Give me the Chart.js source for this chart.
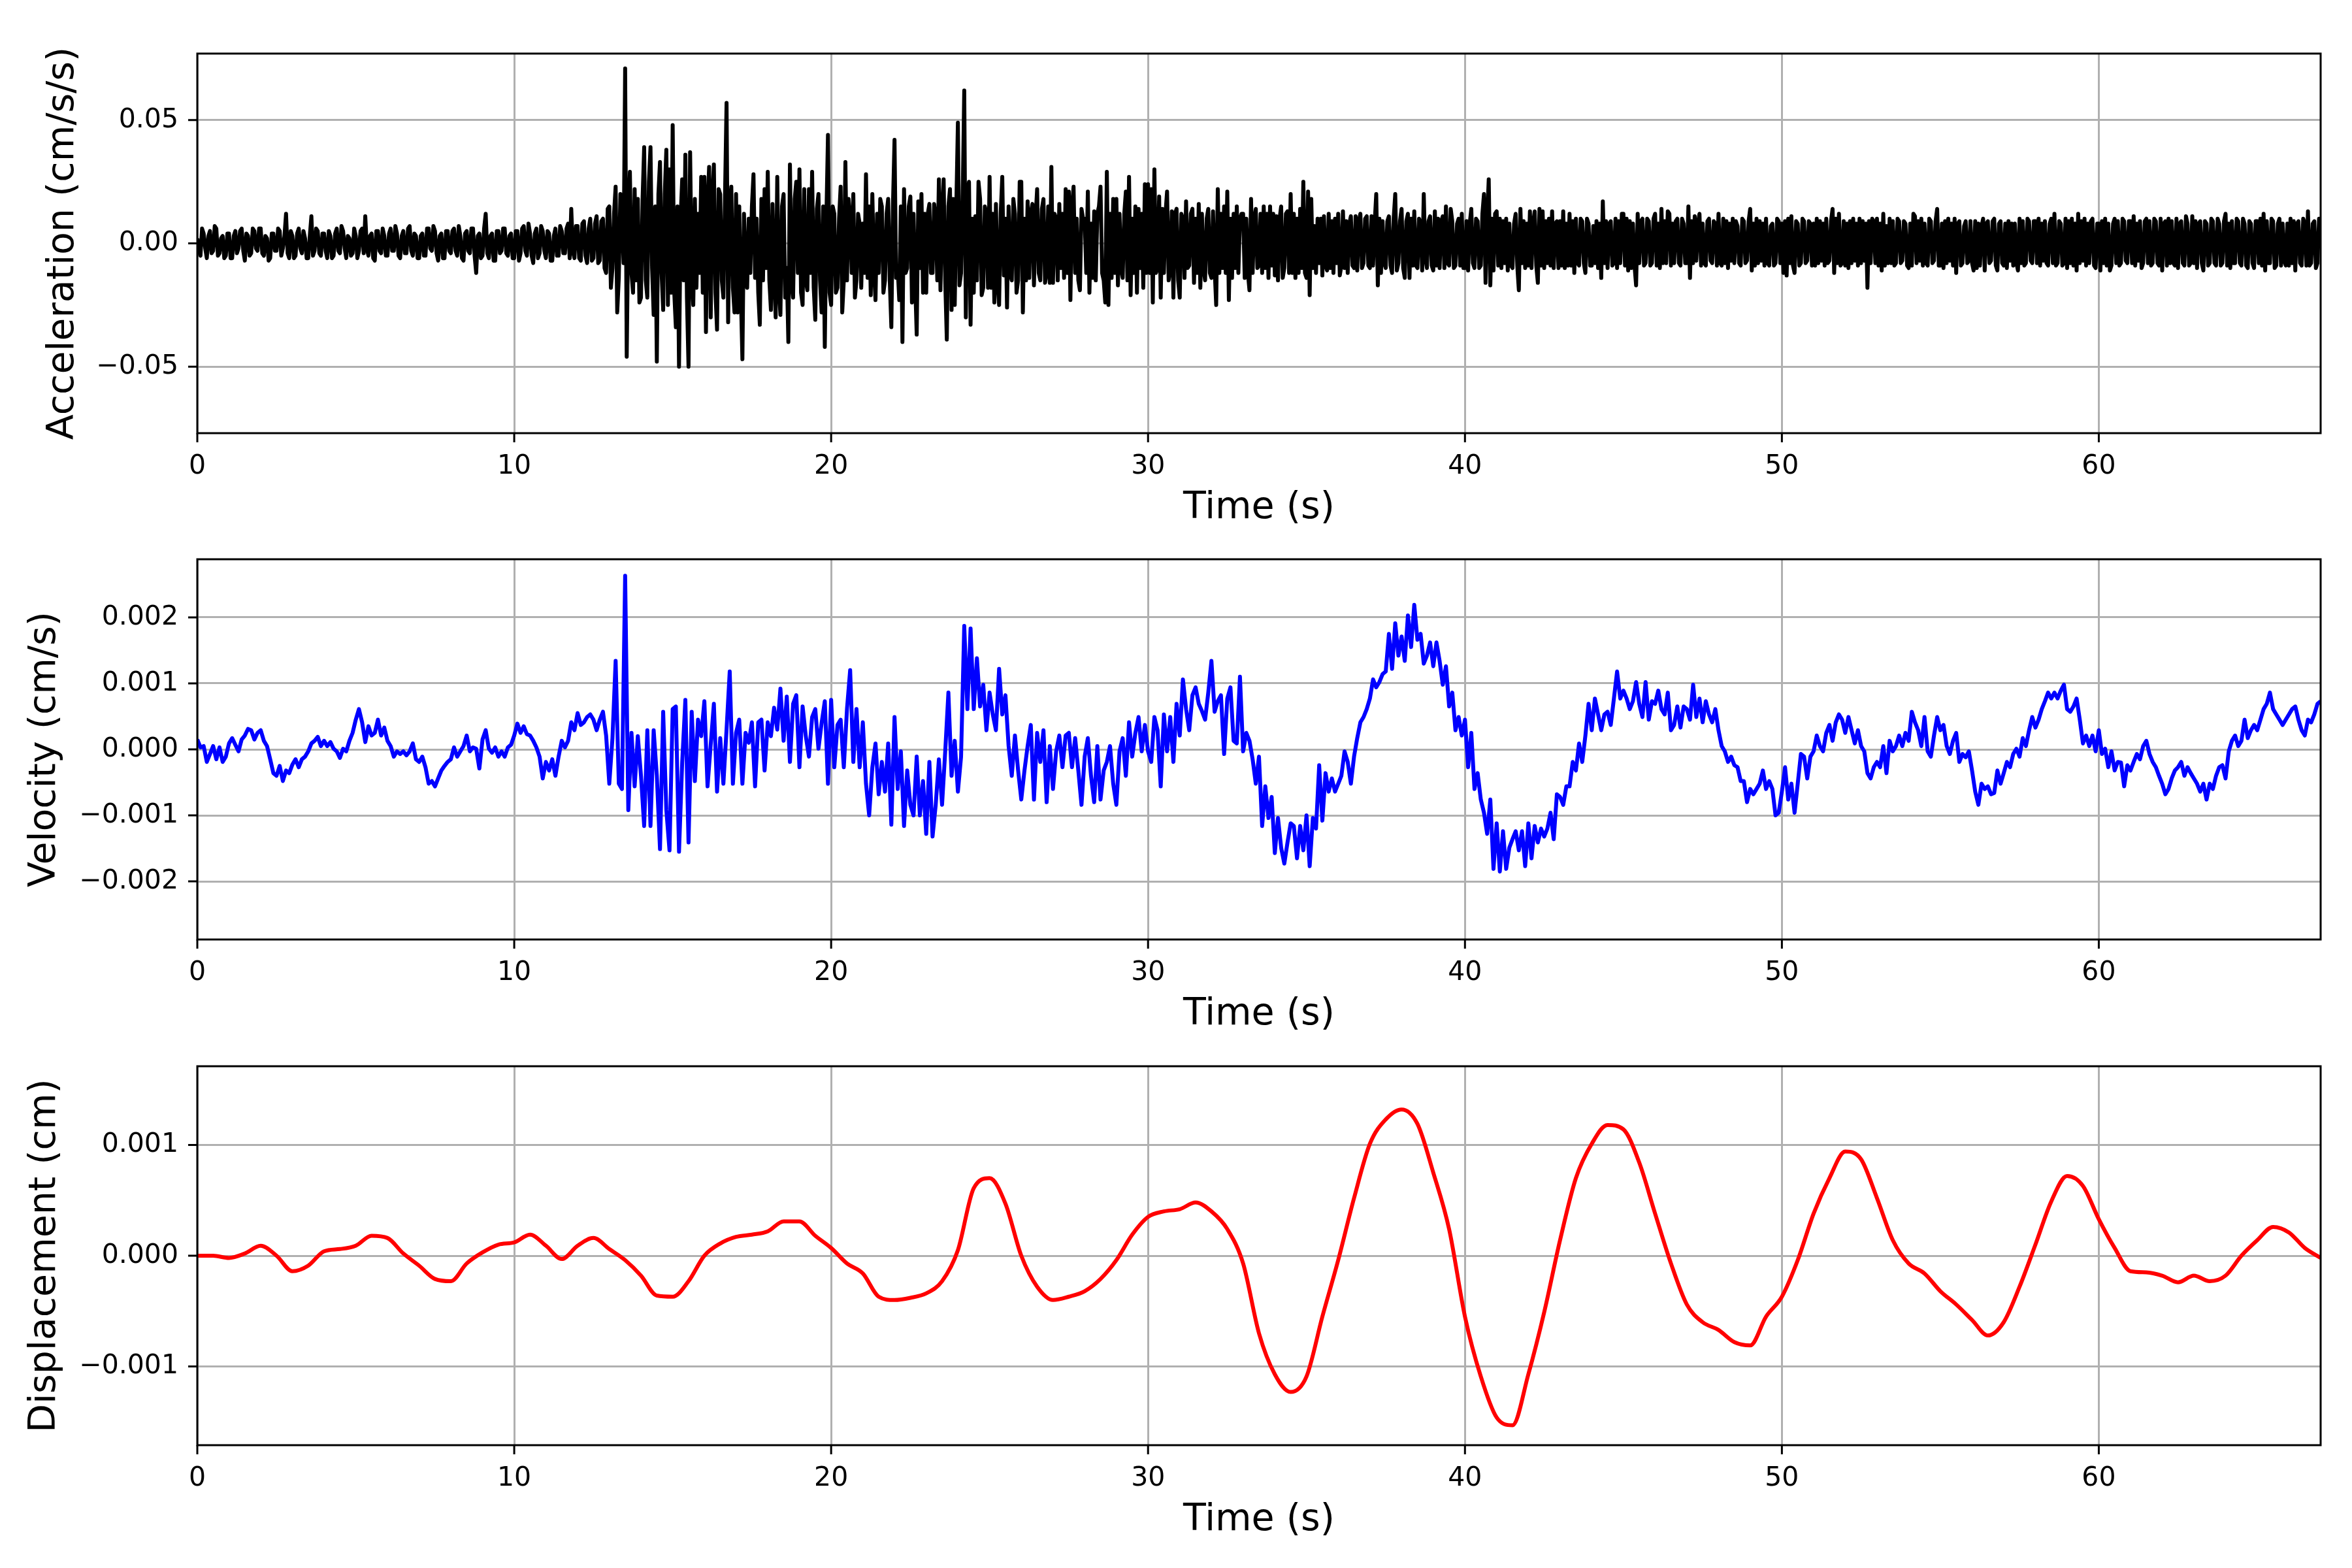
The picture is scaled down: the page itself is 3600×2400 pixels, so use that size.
<!DOCTYPE html>
<html>
<head>
<meta charset="utf-8">
<title>Acceleration, velocity and displacement</title>
<script src="https://cdn.jsdelivr.net/npm/chart.js@4.4.1/dist/chart.umd.min.js"></script>
<style>
  body { margin: 0; background: #fff; }
  #page { position: relative; width: 3600px; height: 2400px; background: #fff; }
  canvas { position: absolute; left: 0; }
</style>
</head>
<body>
<div id="page">
  <canvas id="acc-chart"></canvas>
  <canvas id="vel-chart"></canvas>
  <canvas id="disp-chart"></canvas>
</div>
<script>
// time axis (s)
const timeTicks = [0, 10, 20, 30, 40, 50, 60];
const timeMax = 67;
const accStep = 0.05;     // s between acceleration samples
const velStep = 0.1;      // s between velocity samples
const dispStep = 0.5;     // s between displacement samples

// acceleration in 0.001 cm/s/s, one row per second
const accMilli = [
  2,-3,-5,6,4,-2,-6,3,5,-4,-3,7,6,-5,-4,2,3,-6,-5,4,
  4,-6,-6,3,5,-4,-2,5,6,-3,-7,4,3,-5,-4,6,5,-2,-3,6,
  6,-4,-5,3,2,-7,-6,4,4,-3,-3,6,5,-5,-2,3,12,-4,-6,5,
  3,-6,-5,4,6,-2,-4,5,2,-6,-6,3,11,-5,-3,6,5,-4,-5,4,
  4,-3,-6,5,3,-6,-5,4,6,-3,-4,7,5,-2,-6,3,2,-5,-4,6,
  3,-6,-3,5,6,-4,11,-2,-5,3,4,-6,-7,5,5,-3,-4,6,3,-5,
  -5,4,6,-3,-3,7,4,-5,-6,3,5,-4,-4,6,7,-3,-5,4,3,-6,
  -6,3,4,-5,-5,6,6,-2,-3,7,5,-4,-7,3,4,-6,-6,5,5,-3,
  -4,5,6,-3,-5,7,3,-6,-7,4,5,-3,-4,6,6,-5,-12,3,4,-6,
  -5,6,12,-4,-6,3,4,-7,-7,5,5,-4,-3,6,6,-4,-5,3,4,-6,
  -6,5,5,-7,-4,6,7,-3,-5,8,4,-5,-8,4,6,-6,-4,7,5,-3,
  -6,5,4,-7,-7,3,6,-5,-5,7,5,-4,-4,6,8,-6,14,-3,-6,7,
  7,-6,-7,8,9,-5,-8,6,10,-7,-6,8,11,-8,-7,9,10,-10,-12,14,
  15,-18,-10,12,23,-28,-14,20,12,-8,71,-46,10,29,-12,-20,22,-15,18,-24,
  -22,18,39,-15,-22,25,39,-10,-29,15,-48,20,33,-12,-27,20,38,-25,30,-20,
  48,-20,-34,15,-50,10,26,-15,36,-22,-50,37,-12,-25,18,-18,12,-12,27,-20,
  27,-36,15,31,-30,18,32,-20,-35,22,20,-15,-22,18,57,-32,15,23,-18,-28,
  20,-28,15,-20,-47,12,-10,-18,10,-12,15,28,-14,10,-20,-33,18,-15,22,-10,
  29,-15,-27,16,-12,-30,27,-18,-29,15,20,-22,-10,-40,32,-15,-22,18,25,-12,
  30,-20,-25,22,-15,-19,22,-12,29,-18,-31,14,20,-15,-28,15,-42,10,44,-20,
  -25,15,12,-20,-18,10,23,-28,-15,33,-15,18,10,-12,20,-22,-15,12,8,-18,
  8,-12,28,-14,15,-21,20,-10,-23,12,-12,18,15,-20,-15,12,18,-15,-34,15,
  42,-14,-10,-23,15,-40,22,-12,-10,15,19,-24,12,-15,-37,17,-10,20,-20,12,
  -20,12,16,-12,-12,16,10,-15,26,-19,12,26,-15,-39,15,22,-27,18,-25,15,
  49,-17,-12,18,62,-30,20,25,-33,10,-20,11,-15,25,18,-21,-18,15,12,-18,
  27,-18,12,-24,16,-15,-25,12,27,-13,10,-26,15,-12,-15,18,12,-20,-15,25,
  25,-28,10,-15,17,-14,12,16,-17,10,22,-12,-15,14,18,-16,-12,15,-16,31,
  -16,12,10,-15,16,-10,12,-14,22,-12,21,-23,15,23,-12,10,-15,-19,14,10,
  10,-12,21,-20,8,-14,13,-15,12,15,23,-12,-15,-24,29,-25,12,-14,18,-12,
  18,-17,12,-10,-14,12,21,-15,27,-21,10,-12,15,-20,14,-10,12,-18,24,-12,
  24,-12,22,-24,30,-12,-10,19,-22,14,-12,12,21,-15,-10,13,-22,12,14,-15,
  -22,12,10,-14,17,-10,-9,12,14,-16,10,-12,16,-18,12,-10,-15,10,14,-12,
  -14,13,-10,-25,22,-12,12,-10,15,-12,21,-23,10,-14,12,-10,15,-12,10,12,
  12,-14,10,-12,-19,18,-12,10,14,-10,-9,12,-12,15,-10,12,-14,15,-9,12,
  -13,11,-15,10,15,-14,-10,12,13,-12,20,-12,12,-14,10,-12,14,-10,25,-12,
  -14,21,-21,18,-10,7,-12,10,-8,10,-13,11,-9,-11,12,-10,9,-12,10,-8,
  12,-13,-9,13,-10,9,-12,8,11,-9,-10,11,-11,9,12,-10,-8,10,11,-9,
  -10,11,-9,8,20,-17,10,-12,9,-8,-10,9,11,-9,-12,10,20,-11,-8,9,
  14,-10,-14,9,12,-14,10,-9,13,-9,-10,10,8,-11,20,-6,-10,9,11,-9,
  -11,13,-9,10,-10,9,11,-10,15,-8,-9,14,9,-10,-9,8,10,-9,12,-10,
  -10,9,-11,8,14,-8,-10,10,9,-10,-9,12,20,-16,10,26,-17,10,-11,12,
  13,-9,10,-10,9,-8,10,-11,8,-9,-10,8,12,-9,-19,14,-8,9,-10,8,
  -9,13,-10,8,13,-9,-16,14,-9,13,-10,9,-8,10,-9,13,-10,8,9,-10,
  9,-9,13,-10,8,-9,12,-9,9,-12,10,-8,-9,10,9,-8,-12,10,8,-9,
  -9,7,-8,9,-10,8,-14,17,-8,9,-10,8,9,-9,-8,10,-10,9,-8,12,
  12,-9,10,-11,9,-10,8,-9,-17,12,-8,9,10,-9,-8,10,9,-9,-8,10,
  12,-9,8,-10,14,-8,9,-8,13,12,-9,8,-8,9,10,-8,-9,10,8,-8,
  -8,15,-14,9,-8,11,-7,8,12,-9,8,-8,-9,9,10,-7,-8,9,8,-9,
  12,-8,-9,10,-8,9,-10,8,-7,10,-8,9,7,-8,-9,10,9,-8,-7,9,
  14,-11,8,-9,10,-8,9,-7,8,-9,10,-8,-9,7,8,-9,-8,10,9,-8,
  8,-12,9,-13,10,-8,11,-9,-12,9,8,-9,-8,10,9,-8,-7,9,8,-9,
  8,-9,10,-8,9,-7,8,-9,10,-8,-7,9,14,-12,10,-8,12,-9,-8,9,
  -9,8,-10,9,-8,10,-7,8,-9,10,-8,9,-7,8,-18,9,-8,10,9,-8,
  10,-9,8,-11,12,-9,7,-8,10,-8,9,-9,-8,10,9,-8,-7,9,8,-9,
  -10,8,-9,12,11,-8,9,-7,10,-9,8,-8,-9,10,9,-8,-7,9,14,-9,
  -9,8,-10,9,-8,10,-7,8,-9,10,-12,8,9,-9,-8,7,9,-8,-7,9,
  -8,-11,9,-10,8,-9,7,10,-11,8,9,-8,-7,9,10,-9,-11,8,9,-8,
  -9,8,-10,9,-7,8,-9,8,-8,-11,10,-8,9,-9,-8,10,9,-7,-8,9,
  9,-8,10,-9,8,-7,9,-8,-9,8,10,-8,12,-9,-8,9,8,-9,-8,10,
  -10,9,-8,10,-9,8,-11,12,-8,9,-7,10,-9,8,-8,9,10,-9,-10,8,
  8,-11,9,-8,10,-9,8,-11,-9,8,10,-8,9,-9,-8,10,9,-7,-8,9,
  9,-8,11,-9,8,-7,9,-10,-8,9,10,-8,9,-9,-8,10,9,-8,-9,10,
  -11,8,9,-9,10,-8,9,-8,-9,10,-10,8,9,-8,-9,11,8,-9,-8,11,
  -8,9,-10,8,9,-8,-11,9,8,-9,-8,10,9,-8,-9,10,8,-9,-8,9,
  12,-9,8,-10,9,-8,-8,10,9,-8,-9,10,8,-9,-10,9,8,-8,-10,9,
  9,-8,10,-9,12,-11,9,-8,-8,10,9,-10,-9,8,10,-9,8,-7,-9,8,
  -9,10,-8,9,-11,8,9,-8,-9,10,8,-9,13,-9,-8,8,9,-10,-8,10,
  6
];

// velocity in 0.00001 cm/s, one row per second
const vel1e5 = [
  15,3,5,-19,-7,5,-15,3,-19,-11,
  9,17,7,-3,15,21,31,29,15,25,
  29,13,5,-15,-36,-40,-25,-48,-32,-36,
  -23,-15,-27,-15,-11,-3,9,13,19,5,
  13,5,11,1,-3,-13,1,-3,13,25,
  45,61,41,11,35,21,25,45,21,33,
  13,5,-11,-3,-7,-3,-9,-3,9,-15,
  -19,-11,-27,-52,-48,-56,-44,-32,-25,-19,
  -15,3,-11,-3,5,21,-3,3,1,-29,
  15,29,1,-5,3,-11,-3,-11,3,7,
  21,39,25,35,23,21,13,3,-11,-44,
  -19,-32,-15,-40,-11,13,3,13,41,29,
  55,37,41,49,53,45,29,45,57,21,
  -52,17,134,-52,-60,263,-92,25,-56,20,
  -40,-116,29,-116,29,-40,-151,57,-92,-153,
  61,65,-155,-20,75,-141,57,-48,45,20,
  73,-56,7,69,-64,17,-52,30,118,-52,
  25,45,-52,25,10,41,-56,41,45,-32,
  41,20,63,30,92,13,80,-19,69,82,
  -27,65,20,-11,49,61,1,40,73,-52,
  75,-27,37,45,-27,61,120,-19,61,-27,
  41,-52,-100,-27,9,-68,-19,-64,9,-114,
  49,-60,-3,-116,-32,-84,-100,-11,-100,-48,
  -128,-19,-132,-84,-15,-84,-3,86,-40,13,
  -64,-11,187,61,183,61,138,65,98,29,
  86,53,29,122,53,82,5,-40,21,-32,
  -76,-32,5,37,-76,25,-19,29,-80,5,
  -60,-3,21,-27,21,25,-27,17,-32,-84,
  -11,17,-40,-80,5,-76,-32,-19,5,-52,
  -84,-3,17,-40,41,-11,25,49,-3,37,
  -3,-19,49,29,-56,53,-3,49,-19,69,
  21,106,61,29,82,94,69,58,45,86,
  134,57,73,82,-7,77,94,13,9,110,
  -3,25,13,-15,-52,-11,-116,-56,-104,-72,
  -157,-104,-149,-173,-141,-112,-116,-165,-116,-153,
  -100,-177,-104,-120,-24,-108,-36,-64,-44,-64,
  -52,-40,-3,-19,-52,-11,17,41,49,61,
  77,106,94,102,114,118,175,122,191,142,
  171,134,203,155,219,166,175,130,142,162,
  126,162,134,98,126,65,86,29,49,21,
  45,-27,25,-60,-36,-76,-96,-128,-76,-181,
  -112,-185,-124,-181,-149,-136,-124,-153,-124,-177,
  -112,-165,-116,-141,-120,-132,-120,-96,-136,-68,
  -72,-84,-56,-56,-19,-32,9,-19,21,69,
  29,77,53,29,53,57,37,77,118,77,
  89,77,61,73,102,69,49,102,45,73,
  69,89,61,53,86,29,37,65,33,65,
  61,45,98,49,77,41,73,53,41,61,
  29,5,-3,-19,-11,-24,-27,-48,-48,-80,
  -60,-68,-60,-52,-32,-60,-48,-60,-100,-96,
  -64,-27,-76,-52,-96,-52,-7,-11,-44,-11,
  -3,21,5,-3,25,37,13,41,53,45,
  25,49,29,9,29,5,-3,-36,-44,-27,
  -19,-27,5,-36,13,-3,5,21,5,25,
  13,57,41,29,5,49,-3,-11,21,49,
  29,37,5,-7,13,25,-19,-7,-12,-3,
  -32,-64,-84,-52,-60,-56,-68,-66,-32,-52,
  -36,-19,-27,-7,1,-11,17,5,29,49,
  33,45,61,73,86,77,86,77,89,98,
  61,57,65,77,45,9,21,5,21,-3,
  29,-7,1,-27,-3,-32,-19,-20,-56,-24,
  -32,-19,-7,-15,5,13,-7,-19,-27,-40,
  -52,-68,-60,-44,-32,-27,-19,-40,-27,-36,
  -44,-52,-64,-52,-76,-52,-60,-40,-27,-24,
  -44,-3,13,21,5,13,45,17,29,37,
  29,45,61,69,86,61,53,45,37,45,
  53,61,65,45,29,21,45,41,53,69,
  73
];

// displacement in 0.00001 cm, every 0.5 s
const disp1e5 = [
  0,0,-2,2,9,0,-14,-9,4,6,
  9,18,16,2,-9,-21,-23,-7,3,10,
  12,19,9,-3,9,16,6,-4,-18,-36,
  -37,-23,0,11,17,19,22,31,31,18,
  7,-7,-16,-37,-40,-38,-34,-23,5,61,
  70,47,0,-28,-40,-37,-32,-21,-4,19,
  35,40,42,48,40,24,-7,-70,-107,-123,
  -109,-55,-4,52,101,123,132,119,75,24,
  -55,-109,-146,-153,-107,-51,14,70,101,118,
  114,84,38,-7,-44,-60,-67,-78,-81,-55,
  -37,-4,38,70,94,87,52,14,-7,-16,
  -32,-44,-58,-72,-60,-28,10,49,72,63,
  33,7,-14,-15,-18,-24,-18,-23,-18,0,
  14,26,21,7,-2
];

const accTicks = [-0.05, 0, 0.05];
const velTicks = [-0.002, -0.001, 0, 0.001, 0.002];
const dispTicks = [-0.001, 0, 0.001];

Chart.defaults.font.family = "'DejaVu Sans', sans-serif";
Chart.defaults.color = '#000';

// black frame and outward tick marks, like the matplotlib axes
const framePlugin = {
  id: 'frame',
  afterDraw(chart) {
    const { ctx, chartArea: a, scales } = chart;
    ctx.save();
    ctx.strokeStyle = '#000';
    ctx.lineWidth = 3;
    ctx.beginPath();
    scales.x.ticks.forEach(t => {
      const px = scales.x.getPixelForValue(t.value);
      ctx.moveTo(px, a.bottom);
      ctx.lineTo(px, a.bottom + 14);
    });
    scales.y.ticks.forEach(t => {
      const py = scales.y.getPixelForValue(t.value);
      ctx.moveTo(a.left, py);
      ctx.lineTo(a.left - 14, py);
    });
    ctx.stroke();
    ctx.strokeRect(a.left, a.top, a.right - a.left, a.bottom - a.top);
    ctx.restore();
  }
};

function toPoints(values, step, unit) {
  return values.map((v, i) => ({ x: i * step, y: v * unit }));
}

function fmt(v, digits) {
  const s = Math.abs(v).toFixed(digits);
  return v < 0 ? '\u2212' + s : s;
}

function makePanel(id, p) {
  const canvas = document.getElementById(id);
  const top = p.areaTop - 82;
  const height = p.areaBottom - top + 149;
  canvas.width = 3600;
  canvas.height = height;
  canvas.style.top = top + 'px';
  canvas.style.width = '3600px';
  canvas.style.height = height + 'px';

  return new Chart(canvas, {
    type: 'line',
    data: {
      datasets: [{
        data: p.points,
        borderColor: p.color,
        borderWidth: 6,
        borderJoinStyle: 'round',
        pointRadius: 0,
        tension: p.smooth ? 0.4 : 0,
        cubicInterpolationMode: p.smooth ? 'monotone' : 'default'
      }]
    },
    options: {
      responsive: false,
      animation: false,
      devicePixelRatio: 1,
      parsing: false,
      layout: { padding: { top: 82, right: 48, left: 0, bottom: 0 } },
      plugins: { legend: { display: false }, tooltip: { enabled: false } },
      scales: {
        x: {
          type: 'linear',
          min: 0,
          max: timeMax,
          afterBuildTicks: s => { s.ticks = timeTicks.map(v => ({ value: v })); },
          afterFit: s => { s.height = 149; },
          grid: { color: '#b0b0b0', lineWidth: 3, drawTicks: false },
          border: { display: false },
          ticks: { font: { size: 41 }, padding: 27, maxRotation: 0, callback: v => String(v) },
          title: { display: true, text: 'Time (s)', font: { size: 57 }, padding: 0 }
        },
        y: {
          type: 'linear',
          min: -p.yLim,
          max: p.yLim,
          afterBuildTicks: s => { s.ticks = p.yTicks.map(v => ({ value: v })); },
          afterFit: s => { s.width = 302; },
          grid: { color: '#b0b0b0', lineWidth: 3, drawTicks: false },
          border: { display: false },
          ticks: { font: { size: 41 }, padding: 29, callback: v => fmt(v, p.digits) },
          title: { display: true, text: p.label, font: { size: 57 }, padding: { top: p.labelPad, bottom: 0 } }
        }
      }
    },
    plugins: [framePlugin]
  });
}

makePanel('acc-chart', {
  areaTop: 82, areaBottom: 663,
  points: toPoints(accMilli, accStep, 0.001),
  color: '#000000', yLim: 0.077, yTicks: accTicks, digits: 2,
  label: 'Acceleration (cm/s/s)', labelPad: 63
});

makePanel('vel-chart', {
  areaTop: 856, areaBottom: 1438,
  points: toPoints(vel1e5, velStep, 0.00001),
  color: '#0000ff', yLim: 0.00288, yTicks: velTicks, digits: 3,
  label: 'Velocity (cm/s)', labelPad: 35
});

makePanel('disp-chart', {
  areaTop: 1632, areaBottom: 2212,
  points: toPoints(disp1e5, dispStep, 0.00001),
  color: '#ff0000', yLim: 0.00171, yTicks: dispTicks, digits: 3,
  label: 'Displacement (cm)', labelPad: 35, smooth: true
});
</script>
</body>
</html>
